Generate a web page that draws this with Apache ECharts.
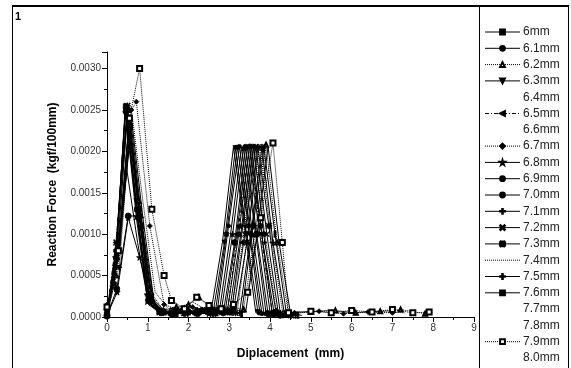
<!DOCTYPE html>
<html><head><meta charset="utf-8">
<script src="https://cdn.jsdelivr.net/npm/echarts@6/dist/echarts.min.js"></script>
<style>html,body{margin:0;padding:0;background:#fff}#c{width:571px;height:368px}</style>
</head><body><div id="c"></div>
<script>
const names = ['6mm','6.1mm','6.2mm','6.3mm','6.4mm','6.5mm','6.6mm','6.7mm','6.8mm','6.9mm','7.0mm','7.1mm','7.2mm','7.3mm','7.4mm','7.5mm','7.6mm','7.7mm','7.8mm','7.9mm','8.0mm'];
const xTicks = [0,1,2,3,4,5,6,7,8,9];
const yTicks = [0,0.0005,0.001,0.0015,0.002,0.0025,0.003];

const s60 = [[0,0.00003],[0.18,0.0004],[0.45,0.00255],[0.72,0.0013],[1.0,0.0002],[1.27,0.00006],[1.55,0.00004],[1.85,0.00008],[2.15,0.00005],[2.4,0.00007],[2.65,0.00004],[2.93,0.001],[3.2,0.00205],[3.47,0.0011],[3.75,0.00005],[4.05,0.00003]];
const s61 = [[0,0.00002],[0.2,0.0006],[0.45,0.0025],[0.74,0.0012],[1.03,0.00018],[1.3,0.00005],[1.6,0.00006],[1.9,0.00003],[2.2,0.00009],[2.45,0.00005],[2.7,0.00006],[2.98,0.0011],[3.25,0.00206],[3.52,0.001],[3.8,0.00004],[4.1,0.00002]];
const s62 = [[0,0.00012],[0.22,0.0005],[0.5,0.0025],[0.78,0.0014],[1.08,0.0003],[1.38,0.00008],[1.7,0.00012],[2.0,0.00015],[2.25,0.00024],[2.55,0.00012],[2.85,0.0001],[3.1,0.00012],[3.35,0.00009],[3.63,0.001],[3.9,0.00208],[4.17,0.0009],[4.45,0.00004],[5.0,0.00006],[5.6,0.00008],[6.1,0.00005],[6.7,0.00007],[7.2,0.00009],[7.8,0.00004]];
const s63 = [[0,0.00005],[0.2,0.0007],[0.45,0.00245],[0.72,0.0014],[0.98,0.00025],[1.25,0.00008],[1.55,0.00003],[1.85,0.00006],[2.15,0.00004],[2.4,0.00008],[2.6,0.00005],[2.88,0.0009],[3.15,0.00204],[3.42,0.001],[3.7,0.00006],[4.0,0.00003]];
const s64 = [[0,0.00002],[0.25,0.0008],[0.5,0.0024],[0.78,0.0011],[1.05,0.00015],[1.35,0.00006],[1.65,0.00008],[1.95,0.00004],[2.25,0.00006],[2.6,0.00003],[2.9,0.00007],[3.18,0.001],[3.45,0.00205],[3.72,0.0011],[4.0,0.00005],[4.3,0.00002]];
const s65 = [[0,0.00008],[0.22,0.0009],[0.5,0.0025],[0.78,0.0013],[1.07,0.00022],[1.35,0.00007],[1.65,0.00005],[1.95,0.00009],[2.25,0.00006],[2.6,0.00008],[2.95,0.00005],[3.23,0.0011],[3.5,0.00206],[3.77,0.001],[4.05,0.00006],[4.35,0.00003]];
const s66 = [[0,0.00003],[0.28,0.0008],[0.55,0.0024],[0.82,0.0012],[1.1,0.0002],[1.4,0.00005],[1.7,0.00007],[2.0,0.00004],[2.3,0.00008],[2.7,0.00005],[3.0,0.00006],[3.28,0.001],[3.55,0.00205],[3.82,0.0009],[4.1,0.00004],[4.4,0.00002]];
const s67 = [[0,0.00015],[0.3,0.0006],[0.6,0.0025],[0.72,0.0026],[1.05,0.0011],[1.4,0.00015],[1.8,0.00008],[2.1,0.00012],[2.4,0.00009],[2.75,0.0001],[3.05,0.00008],[3.33,0.0009],[3.6,0.00206],[3.87,0.001],[4.15,0.00008],[4.6,0.00005],[5.2,0.00007],[5.8,0.00004],[6.4,0.00006],[7.0,0.00005]];
const s68 = [[0,0.00002],[0.25,0.0003],[0.52,0.0012],[0.8,0.00072],[1.05,0.00022],[1.32,0.00006],[1.6,0.00004],[1.9,0.00007],[2.2,0.00005],[2.5,0.00004],[2.8,0.00006],[3.08,0.001],[3.35,0.00204],[3.62,0.0011],[3.9,0.00005],[4.2,0.00003]];
const s69 = [[0,0.00001],[0.24,0.00034],[0.52,0.00122],[0.79,0.00122],[1.05,0.00022],[1.33,0.00005],[1.62,0.00003],[1.92,0.00006],[2.22,0.00004],[2.55,0.00007],[2.85,0.00005],[3.13,0.0009],[3.4,0.00205],[3.67,0.001],[3.95,0.00004],[4.25,0.00002]];
const s70 = [[0,0.00004],[0.22,0.0008],[0.5,0.0025],[0.78,0.0013],[1.05,0.0002],[1.32,0.00007],[1.62,0.00005],[1.92,0.00008],[2.22,0.00006],[2.6,0.00004],[2.95,0.00007],[3.23,0.001],[3.5,0.00206],[3.77,0.0011],[4.05,0.00005],[4.32,0.00002]];
const s71 = [[0,0.00006],[0.27,0.0007],[0.55,0.00235],[0.82,0.0011],[1.1,0.00018],[1.38,0.00006],[1.68,0.00004],[1.98,0.00007],[2.28,0.00005],[2.7,0.00008],[3.05,0.00005],[3.33,0.0011],[3.6,0.00205],[3.87,0.0009],[4.15,0.00004],[4.42,0.00002]];
const s72 = [[0,0.00002],[0.2,0.0006],[0.45,0.0025],[0.72,0.0012],[1.0,0.00018],[1.28,0.00005],[1.58,0.00007],[1.88,0.00004],[2.18,0.00006],[2.55,0.00009],[2.9,0.00005],[3.1,0.00007],[3.38,0.001],[3.65,0.00206],[3.92,0.001],[4.2,0.00005],[4.48,0.00002]];
const s73 = [[0,0.00003],[0.23,0.0009],[0.5,0.00255],[0.77,0.0013],[1.04,0.0002],[1.32,0.00006],[1.62,0.00008],[1.92,0.00005],[2.22,0.00007],[2.6,0.00004],[2.9,0.00006],[3.15,0.00005],[3.43,0.0009],[3.7,0.00205],[3.97,0.0011],[4.25,0.00004],[4.52,0.00002]];
const s74 = [[0,0.0001],[0.3,0.0007],[0.6,0.0025],[0.88,0.0014],[1.18,0.0003],[1.5,0.0001],[1.8,0.00012],[2.1,0.00018],[2.4,0.0001],[2.8,0.00012],[3.2,0.00009],[3.48,0.0011],[3.75,0.00207],[4.02,0.001],[4.3,0.00008],[4.8,0.00006],[5.4,0.00008],[6.0,0.00005],[6.6,0.00007],[7.3,0.00005]];
const s75 = [[0,0.00002],[0.27,0.0008],[0.55,0.0024],[0.83,0.0012],[1.1,0.0002],[1.38,0.00005],[1.68,0.00007],[1.98,0.00004],[2.28,0.00006],[2.7,0.00005],[3.0,0.00007],[3.25,0.00005],[3.53,0.001],[3.8,0.00205],[4.07,0.0009],[4.35,0.00004],[4.62,0.00002]];
const s76 = [[0,0.00003],[0.3,0.0009],[0.6,0.0023],[0.87,0.0011],[1.15,0.00017],[1.43,0.00006],[1.72,0.00004],[2.02,0.00006],[2.32,0.00008],[2.7,0.00005],[3.05,0.00006],[3.3,0.00004],[3.58,0.0011],[3.85,0.00204],[4.12,0.001],[4.4,0.00004],[4.68,0.00002]];
const s77 = [[0,0.00005],[0.22,0.0006],[0.48,0.0018],[0.75,0.0009],[1.02,0.00015],[1.3,0.00005],[1.6,0.00007],[1.9,0.00004],[2.2,0.00005],[2.5,0.00008],[2.75,0.00005],[3.03,0.001],[3.3,0.00205],[3.57,0.001],[3.85,0.00004],[4.12,0.00002]];
const s78 = [[0,0.00002],[0.28,0.0008],[0.55,0.0022],[0.83,0.0011],[1.12,0.0002],[1.4,0.00006],[1.7,0.00005],[2.0,0.00008],[2.3,0.00004],[2.7,0.00006],[3.1,0.00005],[3.4,0.00006],[3.68,0.001],[3.95,0.00206],[4.22,0.0009],[4.5,0.00004],[4.78,0.00002]];
const s79 = [[0,0.00012],[0.28,0.0008],[0.55,0.0024],[0.8,0.0030],[1.1,0.0013],[1.4,0.0005],[1.58,0.0002],[1.9,0.0001],[2.2,0.00024],[2.5,0.00014],[2.8,0.0001],[3.1,0.00015],[3.45,0.0003],[3.77,0.0012],[4.07,0.0021],[4.3,0.0009],[4.45,0.00005],[5.0,0.00007],[5.5,0.00005],[6.0,0.00008],[6.5,0.00006],[7.0,0.00009],[7.5,0.00005],[7.9,0.00006]];
const s80 = [[0,0.00004],[0.3,0.0008],[0.6,0.0024],[0.88,0.0012],[1.15,0.0002],[1.45,0.00006],[1.75,0.00004],[2.05,0.00007],[2.3,0.00005],[2.55,0.00006],[2.83,0.0009],[3.1,0.00205],[3.37,0.0011],[3.65,0.00005],[3.95,0.00003]];

const allData = [s60,s61,s62,s63,s64,s65,s66,s67,s68,s69,s70,s71,s72,s73,s74,s75,s76,s77,s78,s79,s80];

const STAR = 'path://M50,0 L61,35 L98,35 L68,57 L79,91 L50,70 L21,91 L32,57 L2,35 L39,35 Z';
const PLUS = 'path://M4.4,0H5.6V10H4.4Z M0,4.4H10V5.6H0Z';
const XS = 'path://M0,1 L1,0 L5,4 L9,0 L10,1 L6,5 L10,9 L9,10 L5,6 L1,10 L0,9 L4,5 Z';
const AST = 'path://M0,1 L1,0 L5,4 L9,0 L10,1 L6,5 L10,9 L9,10 L5,6 L1,10 L0,9 L4,5 Z M4.4,0H5.6V10H4.4Z M0,4.4H10V5.6H0Z';
const VBAR = 'path://M4,0H6V10H4Z';
// style per series: [symbol, size, lineType, rotate, legendIconMode]  mode: 0 normal, 1 hidden, 2 line only
const styles = [
  ['rect',4,'solid',0,0],
  ['circle',4,'solid',0,0],
  ['emptyTriangle',4,'dotted',0,0],
  ['triangle',5,'solid',180,0],
  ['none',0,'solid',0,1],
  ['triangle',5,[4,2,1,2],90,0],
  ['none',0,'solid',0,1],
  ['diamond',5,'dotted',0,0],
  [STAR,6,'solid',0,0],
  ['circle',6,'solid',0,0],
  ['circle',5,'solid',0,0],
  [PLUS,4,'solid',0,0],
  [XS,5,'solid',0,0],
  [AST,6,'solid',0,0],
  ['none',0,'dotted',0,2],
  [PLUS,6,'solid',0,0],
  [VBAR,[2,5],'solid',0,0],
  ['none',0,'solid',0,1],
  ['none',0,'solid',0,1],
  ['emptyRect',5,'dotted',0,0],
  ['none',0,'solid',0,1]
];

const series = allData.map((d,i)=>{
  const st = styles[i];
  return {
    name: names[i], type:'line', data:d,
    symbol: st[0], symbolSize: st[1], symbolRotate: st[3],
    showSymbol: st[0] !== 'none',
    lineStyle:{color:'#000', width:1, type: st[2]},
    itemStyle:{color:'#000', borderColor:'#000', borderWidth: 0.8},
    emphasis:{disabled:true}, z: 2
  };
});

const legendData = names.map((n,i)=> {
  const st = styles[i];
  const m = st[4];
  if (m === 1) return {name:n, itemStyle:{opacity:0}, lineStyle:{opacity:0}};
  if (m === 2) return {name:n, itemStyle:{opacity:0}, lineStyle:{width:1, type:st[2], color:'#000'}};
  return {name:n, lineStyle:{width:1, type:st[2], color:'#000'}};
});

const chart = echarts.init(document.getElementById('c'), null, {renderer:'canvas'});
const FONT = 'Liberation Sans';
chart.setOption({
  animation:false,
  backgroundColor:'#fff',
  textStyle:{fontFamily:FONT},
  grid:{left:107, right:97, top:52, bottom:51, containLabel:false},
  xAxis:{
    type:'value', min:0, max:9, interval:1,
    name:'Diplacement  (mm)', nameLocation:'middle', nameGap:31,
    nameTextStyle:{fontFamily:FONT, fontSize:12, fontWeight:'bold', color:'#000'},
    axisLine:{lineStyle:{color:'#000', width:1}},
    axisTick:{show:true, length:5, lineStyle:{color:'#000'}},
    minorTick:{show:true, splitNumber:2, length:3, lineStyle:{color:'#000'}},
    splitLine:{show:false},
    axisLabel:{fontFamily:FONT, fontSize:10, color:'#333', margin:6,
      formatter:v=> xTicks.includes(v) ? String(v) : ''}
  },
  yAxis:{
    type:'value', min:0, max:0.0032, interval:0.0005,
    name:'Reaction Force  (kgf/100mm)', nameLocation:'middle', nameGap:48,
    nameTextStyle:{fontFamily:FONT, fontSize:12, fontWeight:'bold', color:'#000'},
    axisLine:{show:true, lineStyle:{color:'#000', width:1}},
    axisTick:{show:true, length:5, lineStyle:{color:'#000'}},
    minorTick:{show:true, splitNumber:2, length:3, lineStyle:{color:'#000'}},
    splitLine:{show:false},
    axisLabel:{fontFamily:FONT, fontSize:10, color:'#333', margin:6, showMaxLabel:false,
      formatter:v=> yTicks.some(t=>Math.abs(t-v)<1e-9) ? v.toFixed(4) : ''}
  },
  legend:{
    orient:'vertical', left:484, top:26, itemWidth:35, itemHeight:6, itemGap:4.3,
    data:legendData, selectedMode:false,
    textStyle:{fontFamily:FONT, fontSize:12, color:'#222', padding:[0,0,0,-2]},
    padding:0
  },
  graphic:[
    {type:'line', shape:{x1:12, y1:6, x2:569, y2:6}, style:{stroke:'#000', lineWidth:2}, silent:true},
    {type:'line', shape:{x1:12.5, y1:6, x2:12.5, y2:368}, style:{stroke:'#000', lineWidth:1}, silent:true},
    {type:'line', shape:{x1:479.5, y1:6, x2:479.5, y2:368}, style:{stroke:'#000', lineWidth:1}, silent:true},
    {type:'line', shape:{x1:568.5, y1:6, x2:568.5, y2:368}, style:{stroke:'#000', lineWidth:1}, silent:true},
    {type:'text', left:15, top:11, style:{text:'1', font:'bold 11px "Liberation Sans"', fill:'#000'}, silent:true}
  ],
  series: series
});
</script></body></html>
